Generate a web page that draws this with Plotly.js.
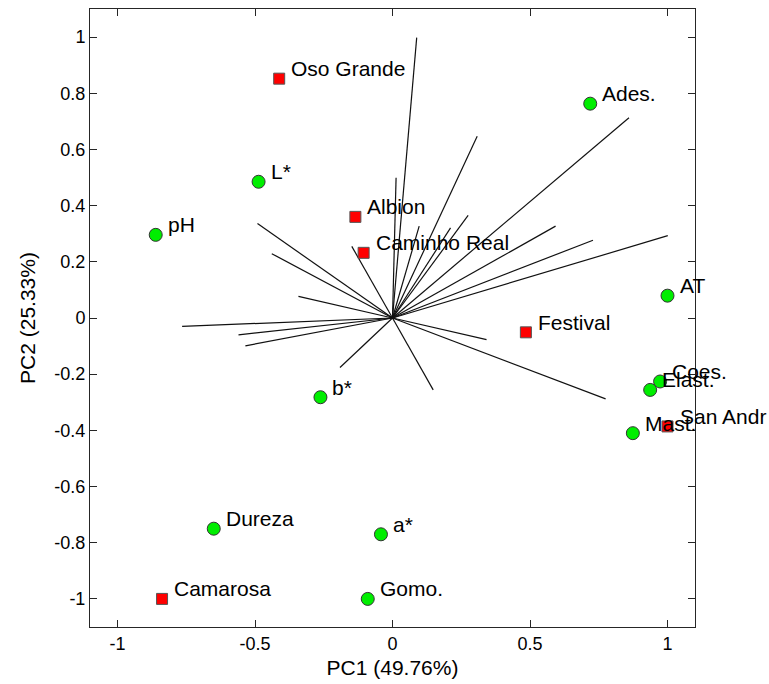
<!DOCTYPE html>
<html>
<head>
<meta charset="utf-8">
<script src="https://cdn.plot.ly/plotly-3.0.1.min.js"></script>
<style>body{margin:0;padding:0;background:#fff;} #chart{width:769px;height:684px;}</style>
</head>
<body>
<div id="chart"></div>
<script>
// Variables (green circles)
const varNames = ["pH", "L*", "Ades.", "AT", "Coes.", "Elast.", "Mast.", "b*", "Dureza", "a*", "Gomo."];
const varX = [-0.861, -0.487, 0.719, 1.0, 0.973, 0.937, 0.874, -0.262, -0.650, -0.042, -0.090];
const varY = [0.296, 0.485, 0.763, 0.0795, -0.226, -0.256, -0.410, -0.282, -0.750, -0.770, -1.0];

// Cultivars (red squares)
const cultNames = ["Oso Grande", "Albion", "Caminho Real", "Festival", "San Andr", "Camarosa"];
const cultX = [-0.412, -0.135, -0.105, 0.485, 1.0, -0.838];
const cultY = [0.852, 0.360, 0.232, -0.051, -0.386, -1.0];

// Loading vectors (lines from origin)
const lineX = [-0.491, -0.439, -0.342, -0.148, -0.765, -0.560, -0.535, -0.191, 0.088, 0.013, 0.308, 0.097, 0.211, 0.275, 0.860, 0.593, 0.729, 1.001, 0.342, 0.148, 0.775];
const lineY = [0.336, 0.229, 0.077, 0.255, -0.030, -0.060, -0.099, -0.176, 0.998, 0.499, 0.647, 0.327, 0.321, 0.365, 0.713, 0.327, 0.277, 0.293, -0.077, -0.256, -0.288];

// Tick labels
const xTickVals = [-1, -0.5, 0, 0.5, 1];
const xTickText = ["-1", "-0.5", "0", "0.5", "1"];
const yTickVals = [1, 0.8, 0.6, 0.4, 0.2, 0, -0.2, -0.4, -0.6, -0.8, -1];
const yTickText = ["1", "0.8", "0.6", "0.4", "0.2", "0", "-0.2", "-0.4", "-0.6", "-0.8", "-1"];

const FONT = "Arial, 'Liberation Sans', sans-serif";

const lx = [], ly = [];
for (let i = 0; i < lineX.length; i++) {
  lx.push(0, lineX[i], null);
  ly.push(0, lineY[i], null);
}

const traces = [
  {x: lx, y: ly, type: "scatter", mode: "lines", line: {color: "#111", width: 1.2}, hoverinfo: "skip", cliponaxis: false},
  {x: cultX, y: cultY, type: "scatter", mode: "markers", cliponaxis: false,
   marker: {symbol: "square", size: 11, color: "#ff0000", line: {color: "#555", width: 1}}},
  {x: varX, y: varY, type: "scatter", mode: "markers", cliponaxis: false,
   marker: {symbol: "circle", size: 13, color: "#00ee00", line: {color: "#333", width: 1}}}
];

const annotations = [];
function addLabels(names, xs, ys) {
  for (let i = 0; i < names.length; i++) {
    annotations.push({x: xs[i], y: ys[i], xref: "x", yref: "y", text: names[i], showarrow: false,
      xanchor: "left", yanchor: "middle", xshift: 10, yshift: 10,
      font: {family: FONT, size: 21, color: "#000"}});
  }
}
addLabels(cultNames, cultX, cultY);
addLabels(varNames, varX, varY);

const axisCommon = {
  showgrid: false, zeroline: false, showline: true, mirror: "ticks",
  linecolor: "#262626", linewidth: 1, ticks: "inside", ticklen: 7, tickcolor: "#262626",
  tickfont: {family: FONT, size: 18, color: "#000"}, range: [-1.1, 1.1], fixedrange: true
};

const layout = {
  width: 769, height: 684,
  margin: {l: 90, r: 74, t: 9, b: 57},
  paper_bgcolor: "#fff", plot_bgcolor: "#fff",
  showlegend: false,
  font: {family: FONT, color: "#000"},
  xaxis: Object.assign({}, axisCommon, {tickmode: "array", tickvals: xTickVals, ticktext: xTickText,
    title: {text: "PC1 (49.76%)", font: {family: FONT, size: 21, color: "#000"}, standoff: 7}}),
  yaxis: Object.assign({}, axisCommon, {tickmode: "array", tickvals: yTickVals, ticktext: yTickText,
    title: {text: "PC2 (25.33%)", font: {family: FONT, size: 21, color: "#000"}, standoff: 13}}),
  annotations: annotations
};

Plotly.newPlot("chart", traces, layout, {displayModeBar: false, staticPlot: true});
</script>
</body>
</html>
